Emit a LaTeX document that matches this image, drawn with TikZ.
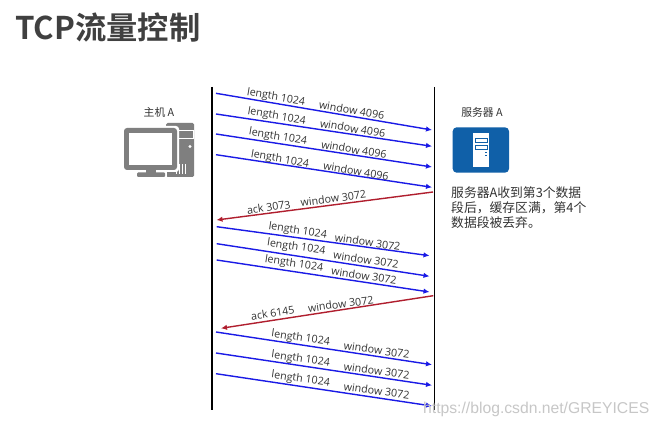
\documentclass[tikz,border=0pt]{standalone}
\usepackage{fontspec}
\setmainfont{Open Sans}
\newfontfamily\cjkf{Noto Sans CJK SC}
\newfontfamily\cjkb{Noto Sans CJK SC Bold}
\definecolor{icongray}{HTML}{7F7F7F}
\definecolor{srvblue}{HTML}{1060A8}
\definecolor{ackred}{HTML}{B01E2E}
\definecolor{dataBlue}{HTML}{1A1AE6}
\definecolor{txtgray}{HTML}{333333}
\usetikzlibrary{arrows.meta}
\tikzset{
  lifeline/.style={line width=1.8pt,black},
  datamsg/.style={line width=1.4pt,dataBlue,-{Latex[length=6pt,width=5.5pt]}},
  ackmsg/.style={line width=1.4pt,ackred,-{Latex[length=6pt,width=5.5pt]}},
  msglabel/.style={font=\fontsize{10.7}{12}\selectfont,text=txtgray,inner sep=0pt},
  caption/.style={font=\cjkf\fontsize{10.8}{12}\selectfont,text=txtgray,inner sep=0pt},
}
\begin{document}
\begin{tikzpicture}[x=1pt,y=-1pt]
\useasboundingbox (0,0) rectangle (660,427);
\fill[white] (0,0) rectangle (660,427);
% title
\node[anchor=west,inner sep=0pt,text=black!75,font=\cjkb\fontsize{31.3}{36}\selectfont] (title) at (15,28) {TCP流量控制};
% lifelines
\coordinate (h1) at (212,87); \coordinate (h2) at (212,410);
\coordinate (s1) at (434.5,87); \coordinate (s2) at (434.5,410);
\draw[lifeline] (h1) -- (h2);
\draw[lifeline] (s1) -- (s2);
% host icon
\node[caption] (hostlabel) at (159,112.7) {主机 A};
\fill[icongray,rounded corners=1.5pt] (166,123) rectangle (194,177);
\draw[white,line width=1pt] (178,131) rectangle (193,139);
\fill[white] (190,146.5) circle (1.6);
\foreach \vx in {176,179,182,185}{\fill[white] (\vx,164) rectangle (\vx+1.3,174);}
\fill[white,rounded corners=3pt] (122,126) rectangle (179,172);
\fill[icongray,rounded corners=3pt] (124,128) rectangle (177,170);
\fill[white] (129,133) rectangle (172,165);
\fill[icongray] (146,170) rectangle (156,173);
\fill[white] (165,171) rectangle (167,178);
\fill[icongray,rounded corners=1pt] (137,172.5) rectangle (165,177);
% server icon
\node[caption] (srvlabel) at (482,112.7) {服务器 A};
\fill[srvblue,rounded corners=4pt] (452.7,127.3) rectangle (509,172.7);
\fill[white] (473.3,132.7) rectangle (489,167.3);
\draw[srvblue,line width=.8pt] (475,138.3) rectangle (487.3,142.7);
\draw[srvblue,line width=.8pt] (475,145) rectangle (487.3,149.3);
\fill[srvblue] (485.3,152) rectangle (487,153.5);
\fill[srvblue] (485.3,155) rectangle (487,156.5);
\node[anchor=north west,inner sep=0pt,text=txtgray,align=left,font=\cjkf\fontsize{12.8}{15}\selectfont] (note) at (451,186.5) {服务器A收到第3个数据\\段后，缓存区满，第4个\\数据段被丢弃。};
% message end points
\coordinate (a1) at (216,93.3);   \coordinate (b1) at (432,130);
\coordinate (a2) at (216,114);    \coordinate (b2) at (432,146.3);
\coordinate (a3) at (216,134);    \coordinate (b3) at (432,167);
\coordinate (a4) at (216,154.7);  \coordinate (b4) at (432,187.3);
\coordinate (r1) at (433,192);    \coordinate (l1) at (216.5,220);
\coordinate (a5) at (216.7,226.7);\coordinate (b5) at (429.5,255.7);
\coordinate (a6) at (216.7,243.7);\coordinate (b6) at (429.5,276.3);
\coordinate (a7) at (216.7,260);  \coordinate (b7) at (429.5,292);
\coordinate (r2) at (433.3,295.7);\coordinate (l2) at (221,328.3);
\coordinate (a8) at (216,332);    \coordinate (b8) at (432,364.7);
\coordinate (a9) at (216,353);    \coordinate (b9) at (432,385.3);
\coordinate (a10) at (216,373.7); \coordinate (b10) at (432,406);
\foreach \i in {1,...,10}{\draw[datamsg] (a\i) -- (b\i);}
\draw[ackmsg] (r1) -- (l1);
\draw[ackmsg] (r2) -- (l2);
% labels
\node[msglabel,rotate=-9.5] (t1) at (276,97.5) {length 1024};
\node[msglabel,rotate=-9.5] (w1) at (351.7,110) {window 4096};
\node[msglabel,rotate=-9.5] (t2) at (276.7,116.5) {length 1024};
\node[msglabel,rotate=-9.5] (w2) at (352.7,128.5) {window 4096};
\node[msglabel,rotate=-9.5] (t3) at (278,137) {length 1024};
\node[msglabel,rotate=-9.5] (w3) at (354,149.5) {window 4096};
\node[msglabel,rotate=-9.5] (t4) at (280,159.5) {length 1024};
\node[msglabel,rotate=-9.5] (w4) at (356,171) {window 4096};
\node[msglabel,rotate=8] (k1) at (268.7,207.3) {ack 3073};
\node[msglabel,rotate=7.5] (x1) at (333.3,198.3) {window 3072};
\node[msglabel,rotate=-8.5] (t5) at (297.7,231) {length 1024};
\node[msglabel,rotate=-8.5] (w5) at (367.7,242) {window 3072};
\node[msglabel,rotate=-8.5] (t6) at (296.3,247.5) {length 1024};
\node[msglabel,rotate=-8.5] (w6) at (366,259.7) {window 3072};
\node[msglabel,rotate=-8.5] (t7) at (294,264) {length 1024};
\node[msglabel,rotate=-8.5] (w7) at (364,275.7) {window 3072};
\node[msglabel,rotate=9] (k2) at (272.7,313.3) {ack 6145};
\node[msglabel,rotate=7.5] (x2) at (340.7,304) {window 3072};
\node[msglabel,rotate=-8] (t8) at (300.7,338.3) {length 1024};
\node[msglabel,rotate=-8] (w8) at (376.7,350) {window 3072};
\node[msglabel,rotate=-8] (t9) at (300.7,359.3) {length 1024};
\node[msglabel,rotate=-8] (w9) at (376.7,370.7) {window 3072};
\node[msglabel,rotate=-8] (t10) at (300.7,379.3) {length 1024};
\node[msglabel,rotate=-8] (w10) at (376.7,390.7) {window 3072};
% watermark
\node[anchor=west,inner sep=0pt,text=black!22,font=\fontspec{Liberation Sans}\fontsize{15.7}{18}\selectfont] (wm) at (423,409) {https://blog.csdn.net/GREYICES};
\end{tikzpicture}
\end{document}
